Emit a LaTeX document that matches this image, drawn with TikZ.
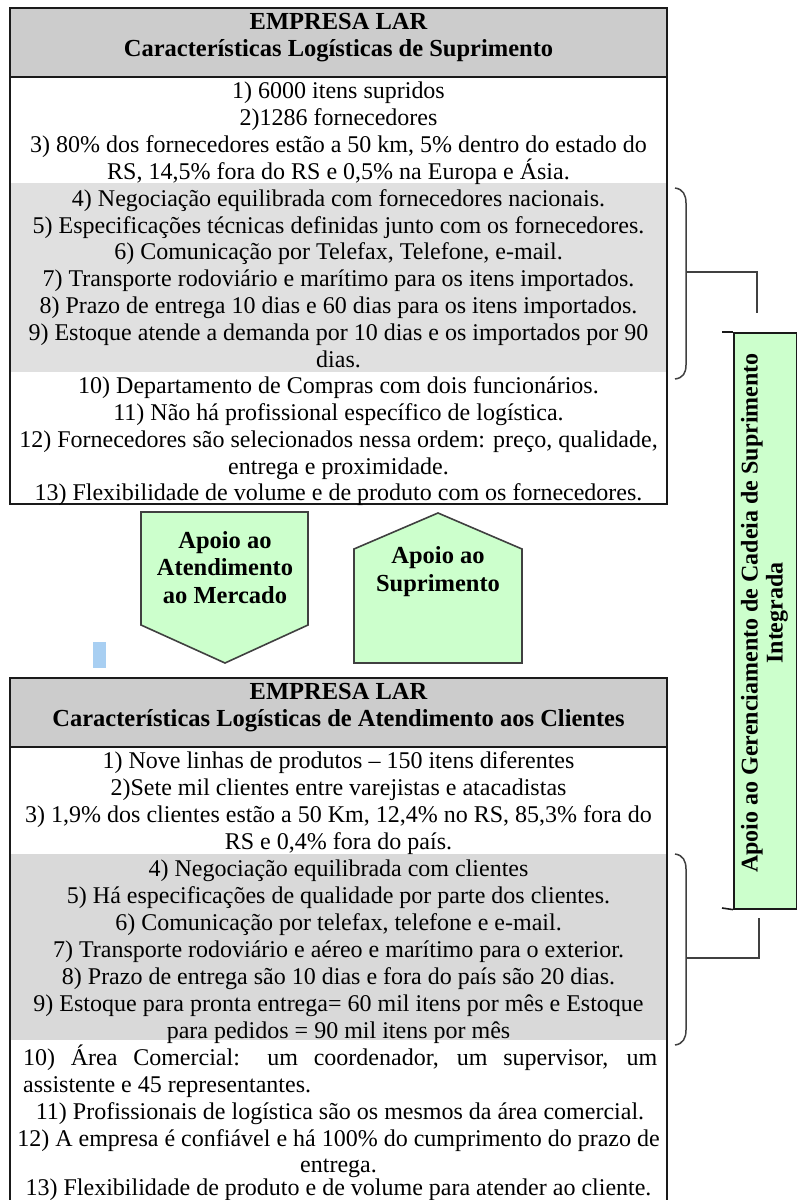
\documentclass[tikz,border=0pt]{standalone}
\usepackage{fontspec}
\setmainfont{Liberation Serif}
\newcommand\bodyfnt{\fontsize{24pt}{27pt}\selectfont}
\newcommand\headfnt{\fontsize{24.5pt}{27pt}\selectfont\bfseries}
\newcommand\sidefnt{\fontsize{24pt}{25pt}\selectfont\bfseries}
\definecolor{hdrgray}{HTML}{CCCCCC}
\definecolor{bandA}{HTML}{E0E0E0}
\definecolor{bandB}{HTML}{D9D9D9}
\definecolor{lgreen}{HTML}{CCFFCC}
\definecolor{edge}{HTML}{1A1A1A}
\definecolor{brace}{HTML}{404040}
\definecolor{lblue}{HTML}{A8CFF2}
\tikzset{
  ln/.style={font=\bodyfnt, inner sep=0pt, anchor=base},
  hd/.style={font=\headfnt, inner sep=0pt, anchor=base},
  pt/.style={font=\headfnt, inner sep=0pt, anchor=base},
  boxframe/.style={draw=edge, line width=2pt},
  hdrline/.style={draw=edge, line width=2.4pt},
  pent/.style={draw=brace, line width=1.6pt, fill=lgreen},
  br/.style={draw=brace, line width=1.5pt},
}
\begin{document}
\begin{tikzpicture}[x=1pt,y=-1pt]
\useasboundingbox (0,0) rectangle (796,1200);
\fill[white] (0,0) rectangle (796,1200);

% ---------- top box ----------
\fill[hdrgray] (10,8) rectangle (667,77);
\fill[bandA] (10,183) rectangle (667,372);
\draw[boxframe] (10,8) rectangle (667,504);
\draw[hdrline] (10,77) -- (667,77);
\node[hd] (h1a) at (338.5,29) {EMPRESA LAR};
\node[hd] (h1b) at (338.5,56) {Características Logísticas de Suprimento};
\node[ln] (a1) at (338.5,98) {1) 6000 itens supridos};
\node[ln] (a2) at (338.5,125) {2)1286 fornecedores};
\node[ln] (a3) at (338.5,152) {3) 80\% dos fornecedores estão a 50 km, 5\% dentro do estado do};
\node[ln] (a3b) at (338.5,179) {RS, 14,5\% fora do RS e 0,5\% na Europa e Ásia.};
\node[ln] (a4) at (338.5,206) {4) Negociação equilibrada com fornecedores nacionais.};
\node[ln] (a5) at (338.5,233) {5) Especificações técnicas definidas junto com os fornecedores.};
\node[ln] (a6) at (338.5,259) {6) Comunicação por Telefax, Telefone, e-mail.};
\node[ln] (a7) at (338.5,286) {7) Transporte rodoviário e marítimo para os itens importados.};
\node[ln] (a8) at (338.5,313) {8) Prazo de entrega 10 dias e 60 dias para os itens importados.};
\node[ln] (a9) at (338.5,340) {9) Estoque atende a demanda por 10 dias e os importados por 90};
\node[ln] (a9b) at (338.5,367) {dias.};
\node[ln] (a10) at (338.5,393) {10) Departamento de Compras com dois funcionários.};
\node[ln] (a11) at (338.5,420) {11) Não há profissional específico de logística.};
\node[ln] (a12) at (338.5,447) {12) Fornecedores são selecionados nessa ordem: preço, qualidade,};
\node[ln] (a12b) at (338.5,474) {entrega e proximidade.};
\node[ln] (a13) at (338.5,500) {13) Flexibilidade de volume e de produto com os fornecedores.};

% ---------- pentagons ----------
\draw[pent] (141,512) -- (308,512) -- (308,625) -- (225,663) -- (141,625) -- cycle;
\node[pt] (p1a) at (225,548) {Apoio ao};
\node[pt] (p1b) at (225,575.5) {Atendimento};
\node[pt] (p1c) at (225,603) {ao Mercado};
\draw[pent] (354,663) -- (522,663) -- (522,549) -- (438,513) -- (354,549) -- cycle;
\node[pt] (p2a) at (438,563) {Apoio ao};
\node[pt] (p2b) at (438,591) {Suprimento};
\fill[lblue] (93,642) rectangle (106,668);

% ---------- bottom box ----------
\fill[hdrgray] (10,678) rectangle (667,747);
\fill[white] (10,747) rectangle (667,1215);
\fill[bandB] (10,854) rectangle (667,1040);
\draw[boxframe] (10,678) rectangle (667,1215);
\draw[hdrline] (10,747) -- (667,747);
\node[hd] (h2a) at (338.5,699) {EMPRESA LAR};
\node[hd] (h2b) at (338.5,726) {Características Logísticas de Atendimento aos Clientes};
\node[ln] (b1) at (338.5,768) {1) Nove linhas de produtos – 150 itens diferentes};
\node[ln] (b2) at (338.5,795) {2)Sete mil clientes entre varejistas e atacadistas};
\node[ln] (b3) at (338.5,822) {3) 1,9\% dos clientes estão a 50 Km, 12,4\% no RS, 85,3\% fora do};
\node[ln] (b3b) at (338.5,849) {RS e 0,4\% fora do país.};
\node[ln] (b4) at (338.5,876) {4) Negociação equilibrada com clientes};
\node[ln] (b5) at (338.5,903) {5) Há especificações de qualidade por parte dos clientes.};
\node[ln] (b6) at (338.5,930) {6) Comunicação por telefax, telefone e e-mail.};
\node[ln] (b7) at (338.5,957) {7) Transporte rodoviário e aéreo e marítimo para o exterior.};
\node[ln] (b8) at (338.5,984) {8) Prazo de entrega são 10 dias e fora do país são 20 dias.};
\node[ln] (b9) at (338.5,1011) {9) Estoque para pronta entrega= 60 mil itens por mês e Estoque};
\node[ln] (b9b) at (338.5,1038) {para pedidos = 90 mil itens por mês};
\node[ln, anchor=base west] (b10) at (23,1065) {\makebox[634pt][s]{10) Área Comercial: um coordenador, um supervisor, um}};
\node[ln, anchor=base west] (b10b) at (23,1092) {assistente e 45 representantes.};
\node[ln] (b11) at (340,1119) {11) Profissionais de logística são os mesmos da área comercial.};
\node[ln] (b12) at (338.5,1146) {12) A empresa é confiável e há 100\% do cumprimento do prazo de};
\node[ln] (b12b) at (338.5,1172) {entrega.};
\node[ln] (b13) at (338.5,1195) {13) Flexibilidade de produto e de volume para atender ao cliente.};

% ---------- braces ----------
\draw[br] (675,188) .. controls (683,189) and (686,195) .. (686,203) -- (686,365) .. controls (686,373) and (683,378) .. (675,379);
\draw[br] (675,854) .. controls (683,855) and (686,861) .. (686,869) -- (686,1030) .. controls (686,1038) and (683,1044) .. (675,1045);

% ---------- side box ----------
\node[draw=edge, line width=1.6pt, fill=lgreen, minimum width=63pt, minimum height=576pt, inner sep=0pt, anchor=north west] (side) at (733,332) {};
\node[font=\sidefnt, rotate=90, align=center, inner sep=0pt] (sidetxt) at (764.5,613) {Apoio ao Gerenciamento de Cadeia de Suprimento\\Integrada};
\draw[edge, line width=1.6pt] (722,332) -- (side.north west);
\draw[edge, line width=1.6pt] (722,908) -- (side.south west);

% ---------- connectors ----------
\coordinate (c1s) at (686,272);
\coordinate (c1e) at (757,313);
\coordinate (c2s) at (686,958);
\coordinate (c2e) at (759,918);
\draw[br] (c1s) -| (c1e);
\draw[br] (c2s) -| (c2e);
\end{tikzpicture}
\end{document}
